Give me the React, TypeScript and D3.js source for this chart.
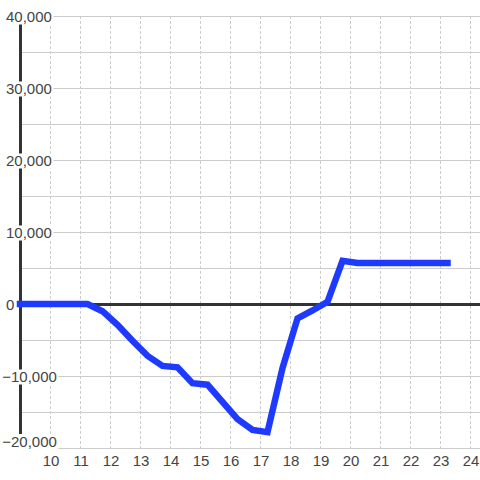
import React, { useEffect, useRef } from "react";
import * as d3 from "d3";

const hours = [9, 9.25, 9.75, 10.25, 10.75, 11.25, 11.75, 12.25, 12.75, 13.25, 13.75, 14.25, 14.75, 15.25, 15.75, 16.25, 16.75, 17.25, 17.75, 18.25, 18.75, 19.25, 19.75, 20.25, 20.75, 21.25, 21.75, 22.25, 22.75, 23.25];
const values = [0, 0, 0, 0, 0, 0, -1000, -2900, -5100, -7200, -8600, -8800, -11000, -11200, -13600, -16000, -17500, -17800, -8900, -2000, -900, 300, 6000, 5700, 5700, 5700, 5700, 5700, 5700, 5700];
const xTicks = [10, 11, 12, 13, 14, 15, 16, 17, 18, 19, 20, 21, 22, 23, 24];
const yLabelTicks = [40000, 30000, 20000, 10000, 0, -10000, -20000];
const yGridTicks = [40000, 35000, 30000, 25000, 20000, 15000, 10000, 5000, 0, -5000, -10000, -15000, -20000];

export default function App() {
  const ref = useRef<SVGSVGElement>(null);
  useEffect(() => {
    const svg = d3.select(ref.current);
    svg.selectAll("*").remove();
    const W = 480, H = 480;
    const x = d3.scaleLinear().domain([9, 24]).range([20, 470]);
    const y = d3.scaleLinear().domain([-20000, 40000]).range([448, 16]);
    const font = "'Liberation Sans', Arial, sans-serif";
    const fs = 15;

    svg.append("rect").attr("width", W).attr("height", H).attr("fill", "#ffffff");

    // horizontal grid
    svg.append("g").selectAll("line").data(yGridTicks.filter(d => d !== 0)).join("line")
      .attr("x1", 20).attr("x2", W)
      .attr("y1", d => y(d) + 0.5).attr("y2", d => y(d) + 0.5)
      .attr("stroke", "#cccccc").attr("stroke-width", 1);

    // vertical dotted grid
    svg.append("g").selectAll("line").data(xTicks).join("line")
      .attr("x1", d => x(d) + 0.5).attr("x2", d => x(d) + 0.5)
      .attr("y1", 16).attr("y2", 448)
      .attr("stroke", "#cccccc").attr("stroke-width", 1).attr("stroke-dasharray", "3,2");

    // y axis
    svg.append("line").attr("x1", 20.5).attr("x2", 20.5).attr("y1", y(40000)).attr("y2", y(-20000))
      .attr("stroke", "#333333").attr("stroke-width", 3);
    // zero line
    svg.append("line").attr("x1", 20).attr("x2", W).attr("y1", y(0) + 0.5).attr("y2", y(0) + 0.5)
      .attr("stroke", "#333333").attr("stroke-width", 3);

    // y labels with white background
    const fmt = d3.format(",");
    const lg = svg.append("g");
    const minY = d3.min(yLabelTicks) as number;
    yLabelTicks.forEach(v => {
      const g = lg.append("g");
      const rect = g.append("rect").attr("fill", "#ffffff");
      const baseline = v === minY ? y(v) - 1.5 : y(v) + 6;
      const t = g.append("text")
        .attr("x", v < 0 ? 2.2 : 6)
        .attr("y", baseline)
        .attr("font-family", font).attr("font-size", fs)
        .attr("fill", "#444444")
        .text(fmt(v));
      const bb = (t.node() as SVGTextElement).getBBox();
      rect.attr("x", bb.x - 1).attr("y", baseline - 12.5)
        .attr("width", bb.width + 2.5).attr("height", 15);
    });

    // x labels
    svg.append("g").selectAll("text").data(xTicks).join("text")
      .attr("x", d => x(d) + 1).attr("y", 466)
      .attr("text-anchor", "middle")
      .attr("font-family", font).attr("font-size", fs)
      .attr("fill", "#444444")
      .text(d => String(d));

    // data line
    const pts = hours.map((h, i) => [h, values[i]] as [number, number]);
    const line = d3.line<[number, number]>().x(d => x(d[0])).y(d => y(d[1]));
    svg.append("path").attr("d", line(pts) as string)
      .attr("fill", "none").attr("stroke", "#1f3aff").attr("stroke-width", 6.5)
      .attr("stroke-linecap", "square").attr("stroke-linejoin", "miter");
  }, []);
  return (
    <svg ref={ref} width={480} height={480} style={{ position: "absolute", left: 0, top: 0, display: "block" }} />
  );
}
